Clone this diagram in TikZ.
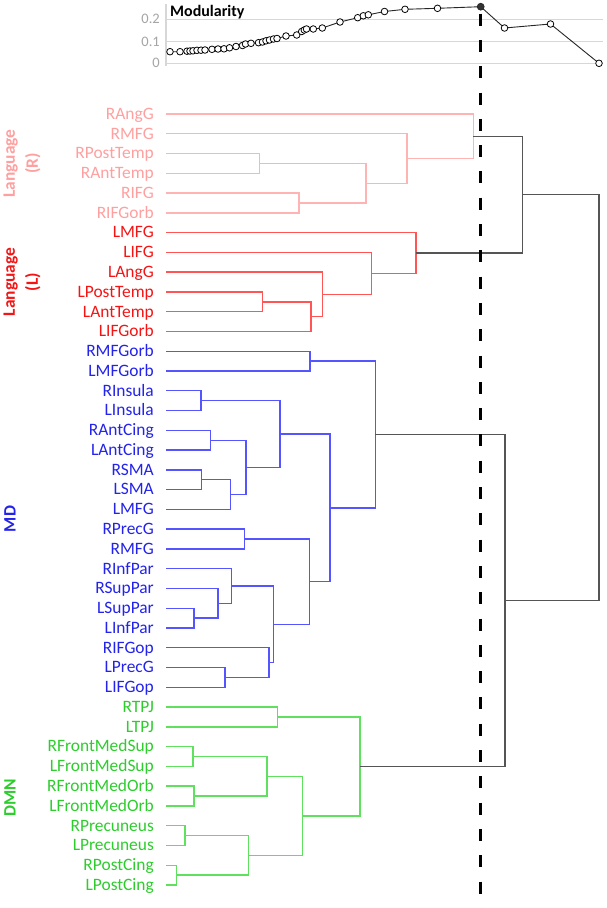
\documentclass[tikz,border=0pt]{standalone}
\usepackage{fontspec}
\setmainfont{Carlito}
\definecolor{pinkT}{RGB}{255,160,160}
\definecolor{pinkL}{RGB}{255,180,180}
\definecolor{redT}{RGB}{245,20,20}
\definecolor{redL}{RGB}{255,85,85}
\definecolor{blueT}{RGB}{35,35,235}
\definecolor{blueL}{RGB}{85,85,255}
\definecolor{greenT}{RGB}{45,205,45}
\definecolor{greenL}{RGB}{95,225,95}
\definecolor{linkG}{RGB}{85,85,85}
\definecolor{gridG}{RGB}{215,215,215}
\definecolor{axisT}{RGB}{165,165,165}
\newcommand\leaffont{\fontsize{17.4}{20}\selectfont}
\newcommand\grpfont{\fontsize{17.4}{23}\selectfont\bfseries}
\begin{document}
\begin{tikzpicture}[x=1pt,y=-1pt,
  leaf/.style={anchor=base east,inner sep=0pt,font=\leaffont},
  grp/.style={rotate=90,align=center,inner sep=0pt,font=\grpfont},
  pinkline/.style={draw=pinkL,line width=1.4pt},
  redline/.style={draw=redL,line width=1.4pt},
  blueline/.style={draw=blueL,line width=1.4pt},
  greenline/.style={draw=greenL,line width=1.4pt},
  linkline/.style={draw=linkG,line width=1.4pt},
  gridline/.style={draw=gridG,line width=1.2pt},
  axislabel/.style={anchor=east,inner sep=0pt,text=axisT,font=\fontsize{14.5}{16}\selectfont},
  mline/.style={draw=black!85,line width=0.9pt},
  mpt/.style={circle,draw=black,fill=white,line width=0.8pt,minimum size=6.6pt,inner sep=0pt},
  mptsel/.style={circle,draw=black!85,fill=black!80,line width=0.8pt,minimum size=6.8pt,inner sep=0pt},
  cutline/.style={draw=black,line width=3pt,dash pattern=on 12pt off 14.3pt}
]
\useasboundingbox[fill=white] (0,0) rectangle (606,908);

% ---------- Modularity chart ----------
\coordinate (ax0) at (166,4);
\coordinate (ax1) at (166,66);
\draw[gridline] (ax0) -- (ax1);
\coordinate (g2a) at (166,19.3); \coordinate (g2b) at (603,19.3);
\coordinate (g1a) at (166,41.6); \coordinate (g1b) at (603,41.6);
\coordinate (g0a) at (166,63.3); \coordinate (g0b) at (603,63.3);
\draw[gridline] (g2a) -- (g2b);
\draw[gridline] (g1a) -- (g1b);
\draw[gridline] (g0a) -- (g0b);
\node[axislabel] (t2) at (160,19.3) {0.2};
\node[axislabel] (t1) at (160,41.6) {0.1};
\node[axislabel] (t0) at (160,63.3) {0};
\node[anchor=base west,inner sep=0pt,font=\fontsize{16}{17}\selectfont\bfseries] (mtitle) at (170,16) {Modularity};

\foreach \px/\py [count=\n] in {
 170/51.7,180/51.7,187/51.2,190/51,193/50.8,197/50.3,201/50.2,205/50,
 212/49.3,218/49,224/48.8,229.5/47.8,236/46.5,242.5/45.5,245.5/44,251/43.3,
 258.5/42.7,262.5/42,266/40.8,269.5/40,273.5/39,277/38.5,286/36,296.7/35,
 301.7/31.5,304.3/30,306.5/29,313.3/29,322.3/28,340/22,357.7/17.7,363.3/15.8,
 368.3/14.8,384.5/11.5,405/9.3,437.5/8.3,480.7/6.7,504.5/28,550.5/24,599/63.3}
 {\coordinate (q\n) at (\px,\py);}
\draw[mline] (q1) \foreach \n in {2,...,40}{ -- (q\n)};

% ---------- cut line ----------
\coordinate (dtop) at (480.7,13.6);
\coordinate (dbot) at (480.7,910);

% ---------- leaves ----------
\foreach \i/\t/\c in {
 0/RAngG/pinkT,1/RMFG/pinkT,2/RPostTemp/pinkT,3/RAntTemp/pinkT,4/RIFG/pinkT,5/RIFGorb/pinkT,
 6/LMFG/redT,7/LIFG/redT,8/LAngG/redT,9/LPostTemp/redT,10/LAntTemp/redT,11/LIFGorb/redT,
 12/RMFGorb/blueT,13/LMFGorb/blueT,14/RInsula/blueT,15/LInsula/blueT,16/RAntCing/blueT,
 17/LAntCing/blueT,18/RSMA/blueT,19/LSMA/blueT,20/LMFG/blueT,21/RPrecG/blueT,22/RMFG/blueT,
 23/RInfPar/blueT,24/RSupPar/blueT,25/LSupPar/blueT,26/LInfPar/blueT,27/RIFGop/blueT,
 28/LPrecG/blueT,29/LIFGop/blueT,
 30/RTPJ/greenT,31/LTPJ/greenT,32/RFrontMedSup/greenT,33/LFrontMedSup/greenT,
 34/RFrontMedOrb/greenT,35/LFrontMedOrb/greenT,36/RPrecuneus/greenT,37/LPrecuneus/greenT,
 38/RPostCing/greenT,39/LPostCing/greenT}
{
 \node[leaf,text=\c] (l\i) at (154,{114+19.77*\i+5.3}) {\t};
 \coordinate (s\i) at (166,{114+19.77*\i});
}

% ---------- group labels ----------
\node[grp,text=pinkT] (gR) at (22,163.5) {Language\\(R)};
\node[grp,text=redT] (gL) at (22,282) {Language\\(L)};
\node[grp,text=blueT] (gMD) at (10,519) {MD};
\node[grp,text=greenT] (gDMN) at (10,798) {DMN};

% ---------- merge points ----------
% pink
\coordinate (pA) at (259.3,163.43);
\coordinate (pB) at (299,202.97);
\coordinate (pC) at (366,183.2);
\coordinate (pD) at (407,158.49);
\coordinate (pE) at (473.3,136.24);
% red
\coordinate (rA) at (262.7,301.82);
\coordinate (rB) at (311,316.64);
\coordinate (rC) at (322.7,294.4);
\coordinate (rD) at (371.3,273.4);
\coordinate (rE) at (416,253.01);
% blue
\coordinate (bA) at (310,361.13);
\coordinate (bB) at (201,400.67);
\coordinate (bC) at (210.7,440.2);
\coordinate (bD) at (201.7,479.75);
\coordinate (bE) at (230.3,494.57);
\coordinate (bF) at (246,467.39);
\coordinate (bG) at (280,434.03);
\coordinate (bH) at (244.3,539.06);
\coordinate (bI) at (194,618.14);
\coordinate (bJ) at (218,603.31);
\coordinate (bK) at (231.7,586.01);
\coordinate (bL) at (225,677.45);
\coordinate (bM) at (269,662.62);
\coordinate (bN) at (273.3,624.32);
\coordinate (bO) at (309.3,581.69);
\coordinate (bP) at (330,507.86);
\coordinate (bQ) at (375.3,434.5);
% green
\coordinate (gA) at (277.7,716.99);
\coordinate (gB) at (193,756.53);
\coordinate (gC) at (194,796.07);
\coordinate (gD) at (267,776.3);
\coordinate (gE) at (185,835.61);
\coordinate (gF) at (176.3,875.15);
\coordinate (gG) at (248.7,855.38);
\coordinate (gH) at (302.7,815.84);
\coordinate (gI) at (360,766.42);
% links
\coordinate (kA) at (522.3,194.63);
\coordinate (kB) at (505,600.46);
\coordinate (kC) at (599,397.5);

% ---------- dendrogram ----------
\draw[pinkline] (s2) -| (pA) |- (s3);
\draw[pinkline] (s4) -| (pB) |- (s5);
\draw[pinkline] (pA) -| (pC) |- (pB);
\draw[pinkline] (s1) -| (pD) |- (pC);
\draw[pinkline] (s0) -| (pE) |- (pD);

\draw[redline] (s9) -| (rA) |- (s10);
\draw[redline] (rA) -| (rB) |- (s11);
\draw[redline] (s8) -| (rC) |- (rB);
\draw[redline] (s7) -| (rD) |- (rC);
\draw[redline] (s6) -| (rE) |- (rD);

\draw[blueline] (s12) -| (bA) |- (s13);
\draw[blueline] (s14) -| (bB) |- (s15);
\draw[blueline] (s16) -| (bC) |- (s17);
\draw[blueline] (s18) -| (bD) |- (s19);
\draw[blueline] (bD) -| (bE) |- (s20);
\draw[blueline] (bC) -| (bF) |- (bE);
\draw[blueline] (bB) -| (bG) |- (bF);
\draw[blueline] (s21) -| (bH) |- (s22);
\draw[blueline] (s25) -| (bI) |- (s26);
\draw[blueline] (s24) -| (bJ) |- (bI);
\draw[blueline] (s23) -| (bK) |- (bJ);
\draw[blueline] (s28) -| (bL) |- (s29);
\draw[blueline] (s27) -| (bM) |- (bL);
\draw[blueline] (bK) -| (bN) |- (bM);
\draw[blueline] (bH) -| (bO) |- (bN);
\draw[blueline] (bG) -| (bP) |- (bO);
\draw[blueline] (bA) -| (bQ) |- (bP);

\draw[greenline] (s30) -| (gA) |- (s31);
\draw[greenline] (s32) -| (gB) |- (s33);
\draw[greenline] (s34) -| (gC) |- (s35);
\draw[greenline] (gB) -| (gD) |- (gC);
\draw[greenline] (s36) -| (gE) |- (s37);
\draw[greenline] (s38) -| (gF) |- (s39);
\draw[greenline] (gE) -| (gG) |- (gF);
\draw[greenline] (gD) -| (gH) |- (gG);
\draw[greenline] (gA) -| (gI) |- (gH);

\draw[linkline] (pE) -| (kA) |- (rE);
\draw[linkline] (bQ) -| (kB) |- (gI);
\draw[linkline] (kA) -| (kC) |- (kB);

% cut line on top
\draw[cutline] (dtop) -- (dbot);

% modularity markers
\foreach \n in {1,...,36,38,39,40} {\node[mpt] (c\n) at (q\n) {};}
\node[mptsel] (c37) at (q37) {};
\end{tikzpicture}
\end{document}
